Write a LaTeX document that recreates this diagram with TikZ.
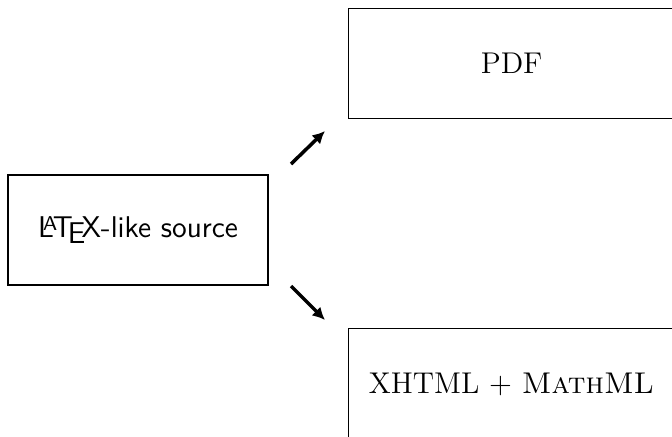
\documentclass[tikz,border=0pt]{standalone}
\usetikzlibrary{arrows.meta}
\begin{document}
\begin{tikzpicture}[x=0.4pt,y=-0.4pt,
	box/.style={draw,line width=0.45pt,inner sep=0pt,font=\large,minimum height=44pt},
	flow/.style={line width=1.4pt,-{Latex[length=5pt,width=5pt]}}]
		    \path[use as bounding box,clip] (0,0) rectangle (672,436);
		    \node[box,minimum width=104pt,font=\large\sffamily] (src) at (138,230) {\LaTeX-like source};
		    \node[box,minimum width=130.4pt,anchor=north west] (pdf) at (348,8) {PDF};
		    \node[box,minimum width=130.4pt,anchor=north west,text depth=0pt] (web) at (348,328) {XHTML + \textsc{MathML}};
		    
		    \coordinate (up1) at (291,164);
		    \coordinate (up2) at (325,131);
		    \coordinate (dn1) at (291,286);
		    \coordinate (dn2) at (325,320);
		    
		    \draw[flow] (up1)--(up2);
		    \draw[flow] (dn1)--(dn2);
\end{tikzpicture}
\end{document}
